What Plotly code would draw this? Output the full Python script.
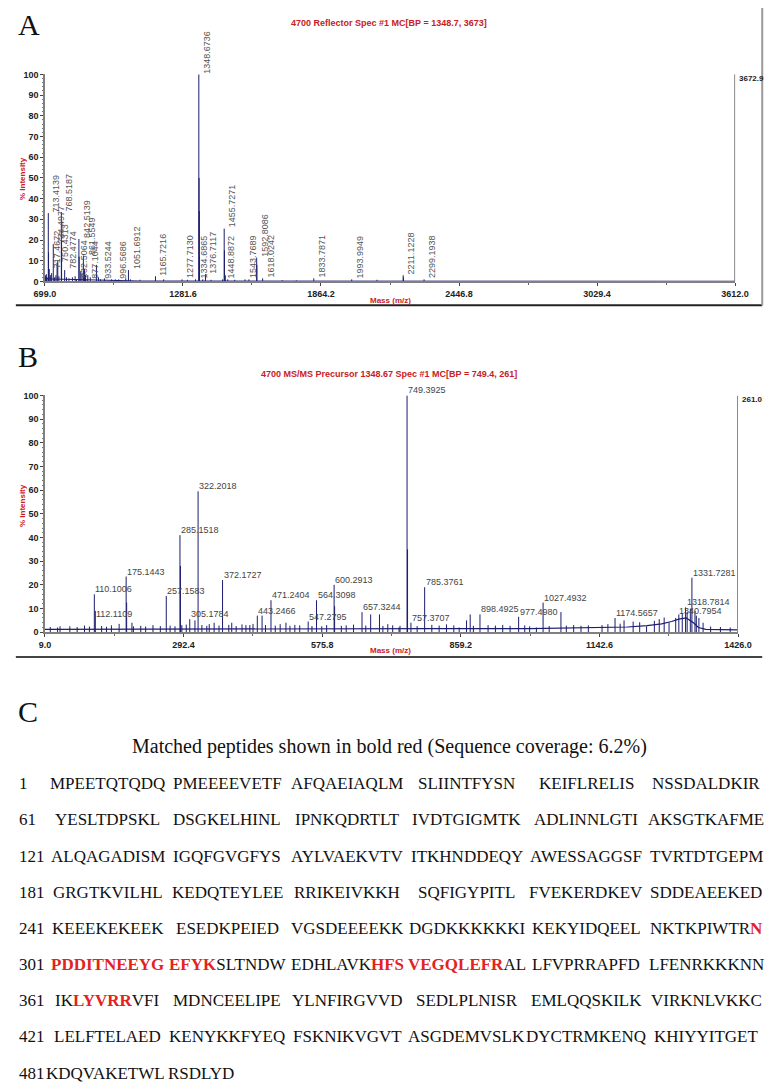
import plotly.graph_objects as go

W, H = 783, 1092

# ---------------- Panel A data (MS reflector spectrum) ----------------
A_TITLE = "4700 Reflector Spec #1 MC[BP = 1348.7, 3673]"
A_MAXLABEL = "3672.9"
a_ticks = [699.0, 1281.6, 1864.2, 2446.8, 3029.4, 3612.0]
a_lab_mz = [713.4139, 717.4672, 734.4977, 750.4313, 768.5187, 782.4774, 832.5064,
            842.5139, 861.5549, 877.1044, 933.5244, 996.5686, 1051.6912, 1165.7216,
            1277.7130, 1334.6865, 1348.6736, 1376.7117, 1448.8872, 1455.7271,
            1543.7689, 1592.8086, 1618.0242, 1833.7871, 1993.9949, 2211.1228, 2299.1938]
a_lab_int = [33.0, 6.0, 18.0, 9.0, 33.5, 5.5, 1.0,
             20.5, 12.5, 0.8, 1.0, 1.0, 5.5, 2.5,
             1.0, 1.0, 100.0, 3.5, 1.0, 25.5,
             1.0, 11.5, 1.5, 1.5, 1.0, 3.0, 1.0]
a_extra_mz = [700.5, 703.0, 705.2, 708.1, 714.4, 722.3, 727.5, 740.2, 745.6, 753.5,
              758.3, 769.5, 790.1, 800.4, 815.2, 826.7, 843.5, 850.3, 855.6, 866.2,
              870.4, 880.1, 890.6, 916.5, 925.3, 950.2, 980.4, 1010.6, 1040.3, 1060.2,
              1100.5, 1200.3, 1300.6, 1349.68, 1350.68, 1351.68, 1365.2, 1400.4,
              1456.7, 1460.4, 1470.5, 1500.3, 1560.2, 1593.8, 1700.5, 1760.3, 2100.6,
              2212.1]
a_extra_int = [3.0, 2.5, 3.5, 2.0, 14.0, 3.0, 4.0, 2.0, 3.0, 10.0,
               2.5, 20.0, 2.0, 1.5, 2.0, 2.5, 12.0, 5.0, 4.0, 6.0,
               3.0, 3.0, 2.0, 8.0, 2.0, 1.5, 1.0, 1.0, 1.5, 1.0,
               0.8, 1.0, 0.8, 50.0, 34.0, 12.0, 1.0, 0.8,
               15.0, 3.0, 1.0, 0.8, 1.0, 8.0, 0.6, 0.5, 0.8,
               2.0]
a_base_mz = [699.0, 720.0, 800.0, 900.0, 1000.0, 1100.0, 3612.0]
a_base_int = [1.5, 1.2, 1.0, 0.8, 0.3, 0.2, 0.1]

# ---------------- Panel B data (MS/MS spectrum) ----------------
B_TITLE = "4700 MS/MS Precursor 1348.67 Spec #1 MC[BP = 749.4, 261]"
B_MAXLABEL = "261.0"
b_ticks = [9.0, 292.4, 575.8, 859.2, 1142.6, 1426.0]
b_lab_mz = [110.1006, 112.1109, 175.1443, 257.1583, 285.1518, 305.1784, 322.2018,
            372.1727, 443.2466, 471.2404, 547.2795, 564.3098, 600.2913, 657.3244,
            749.3925, 757.3707, 785.3761, 898.4925, 977.4980, 1027.4932, 1174.5657,
            1318.7814, 1331.7281, 1340.7954]
b_lab_int = [16.0, 9.0, 23.5, 15.3, 41.0, 5.5, 59.5,
             22.0, 7.0, 13.5, 4.5, 13.5, 20.0, 8.5,
             100.0, 4.0, 19.0, 7.5, 6.5, 12.5, 6.0,
             10.5, 23.0, 7.0]
b_extra_mz = [40.0, 160.8, 176.15, 187.0, 286.15, 289.0, 315.8, 355.0, 391.0, 428.0,
              434.5, 453.0, 460.0, 501.8, 575.0, 601.3, 675.0, 693.0, 733.0, 750.4,
              856.0, 871.0, 878.5, 1000.0, 1013.8, 1064.0, 1148.0, 1193.0, 1211.6,
              1239.0, 1285.0, 1298.6, 1312.0, 1328.5, 1338.0, 1346.0, 1354.6]
b_extra_int = [2.5, 3.5, 12.5, 4.0, 28.0, 3.0, 5.0, 4.0, 4.0, 3.0,
               3.5, 7.0, 3.0, 4.0, 2.5, 11.0, 7.5, 7.5, 2.0, 35.0,
               2.0, 5.0, 7.5, 2.5, 2.0, 8.5, 3.0, 5.0, 4.5,
               2.5, 4.0, 6.0, 8.0, 10.0, 9.0, 6.0, 4.0]
b_noise_mz = [20, 35, 60, 75, 90, 100, 125, 135, 145, 190, 205, 215, 230, 245, 265,
              275, 298, 330, 340, 345, 365, 385, 400, 412, 420, 480, 490, 510, 520,
              530, 555, 585, 615, 625, 640, 665, 700, 710, 720, 735, 770, 800, 815,
              830, 845, 885, 915, 930, 945, 960, 990, 1040, 1075, 1090, 1105, 1120,
              1160, 1185, 1225, 1255, 1265, 1275, 1305, 1322, 1370, 1390, 1410]
b_noise_int = [2.2, 2.0, 2.5, 2.2, 2.8, 2.4, 2.6, 2.3, 2.9, 2.5, 2.7, 2.4, 3.0, 2.6, 2.8,
               2.5, 3.2, 3.0, 2.7, 3.4, 2.8, 3.1, 2.6, 3.3, 3.0, 2.8, 3.4, 2.7, 3.1,
               2.9, 2.6, 3.0, 2.7, 2.9, 3.2, 2.8, 2.6, 3.4, 2.9, 2.7, 2.6, 3.1, 2.8,
               3.3, 2.9, 2.7, 3.0, 2.8, 3.1, 2.7, 2.9, 2.6, 2.8, 3.0, 2.7, 2.9,
               3.4, 3.6, 4.2, 4.8, 5.5, 6.2, 7.5, 8.5, 2.4, 2.2, 2.0]
b_base_mz = [9.0, 200.0, 400.0, 600.0, 800.0, 1000.0, 1150.0, 1200.0, 1240.0, 1270.0,
             1290.0, 1305.0, 1320.0, 1335.0, 1345.0, 1360.0, 1426.0]
b_base_int = [1.2, 1.3, 1.5, 1.5, 1.5, 1.5, 1.8, 2.2, 2.8, 3.5,
              4.5, 5.5, 6.0, 4.0, 2.0, 1.2, 1.0]

# ---------------- Panel C data (protein sequence) ----------------
C_TITLE = "Matched peptides shown in bold red (Sequence coverage: 6.2%)"
SEQUENCE = "".join("""
MPEETQTQDQ PMEEEEVETF AFQAEIAQLM SLIINTFYSN KEIFLRELIS NSSDALDKIR
YESLTDPSKL DSGKELHINL IPNKQDRTLT IVDTGIGMTK ADLINNLGTI AKSGTKAFME
ALQAGADISM IGQFGVGFYS AYLVAEKVTV ITKHNDDEQY AWESSAGGSF TVRTDTGEPM
GRGTKVILHL KEDQTEYLEE RRIKEIVKKH SQFIGYPITL FVEKERDKEV SDDEAEEKED
KEEEKEKEEK ESEDKPEIED VGSDEEEEKK DGDKKKKKKI KEKYIDQEEL NKTKPIWTRN
PDDITNEEYG EFYKSLTNDW EDHLAVKHFS VEGQLEFRAL LFVPRRAPFD LFENRKKKNN
IKLYVRRVFI MDNCEELIPE YLNFIRGVVD SEDLPLNISR EMLQQSKILK VIRKNLVKKC
LELFTELAED KENYKKFYEQ FSKNIKVGVT ASGDEMVSLK DYCTRMKENQ KHIYYITGET
KDQVAKETWL RSDLYD
""".split())
matched_peptides = ["NPDDITNEEYGEFYK", "HFSVEGQLEFR", "LYVRR"]

# ---------------- styling ----------------
NAVY = "#1c1c70"
RED = "#c8201e"
SEQ_RED = "#e3231d"
SANS = "Liberation Sans, Arial, sans-serif"
SERIF = "Liberation Serif, Times New Roman, serif"


def sticks(mz, inten):
    xs, ys = [], []
    for m, h in zip(mz, inten):
        xs += [m, m, None]
        ys += [0, h, None]
    return xs, ys


def px(xp):
    return xp / W


def py(yp):
    return 1 - yp / H


def paper_text(xp, yp, text, font, xanchor="center", yanchor="middle", **kw):
    return dict(x=px(xp), y=py(yp), xref="paper", yref="paper", text=text, showarrow=False,
                xanchor=xanchor, yanchor=yanchor, font=font, **kw)


fig = go.Figure()

# Panel A traces
fig.add_trace(go.Scatter(x=a_base_mz, y=a_base_int, mode="lines", line=dict(color=NAVY, width=1),
                         xaxis="x", yaxis="y", hoverinfo="skip", showlegend=False))
xs, ys = sticks(a_extra_mz + a_lab_mz, a_extra_int + a_lab_int)
fig.add_trace(go.Scatter(x=xs, y=ys, mode="lines", line=dict(color=NAVY, width=1),
                         xaxis="x", yaxis="y", hoverinfo="skip", showlegend=False))

# Panel B traces
fig.add_trace(go.Scatter(x=b_base_mz, y=b_base_int, mode="lines", line=dict(color=NAVY, width=1.2),
                         xaxis="x2", yaxis="y2", hoverinfo="skip", showlegend=False))
xs, ys = sticks(b_noise_mz + b_extra_mz + b_lab_mz, b_noise_int + b_extra_int + b_lab_int)
fig.add_trace(go.Scatter(x=xs, y=ys, mode="lines", line=dict(color=NAVY, width=1),
                         xaxis="x2", yaxis="y2", hoverinfo="skip", showlegend=False))

ann = []

# peak labels A (rotated)
for m, h in zip(a_lab_mz, a_lab_int):
    ann.append(dict(x=m, y=h, xref="x", yref="y", text=f"{m:.4f}", textangle=-90,
                    showarrow=False, xanchor="left", yanchor="bottom", xshift=1, yshift=-1,
                    font=dict(family=SANS, size=9, color="#555")))

# peak labels B (horizontal)
b_shift = {"112.1109": (0, -8), "1340.7954": (-18, 0)}
for m, h in zip(b_lab_mz, b_lab_int):
    t = f"{m:.4f}"
    dx, dy = b_shift.get(t, (0, 0))
    ann.append(dict(x=m, y=h, xref="x2", yref="y2", text=t, showarrow=False,
                    xanchor="left", yanchor="bottom", xshift=-1 + dx, yshift=-2 + dy,
                    font=dict(family=SANS, size=9, color="#444")))

title_font = dict(family=SANS, size=9, color=RED, weight="bold")
axis_font = dict(family=SANS, size=8, color=RED, weight="bold")
max_font = dict(family=SANS, size=8, color="#222", weight="bold")
letter_font = dict(family=SERIF, size=30, color="#111")
seq_font = dict(family=SERIF, size=17, color="#111")

ann.append(paper_text(390, 18, A_TITLE, title_font))
ann.append(paper_text(390, 372, B_TITLE, title_font))
ann.append(paper_text(392, 298, "Mass (m/z)", axis_font))
ann.append(paper_text(392, 651, "Mass (m/z)", axis_font))
ann.append(paper_text(12, 175, "% Intensity", axis_font, textangle=-90))
ann.append(paper_text(12, 505, "% Intensity", axis_font, textangle=-90))
ann.append(paper_text(750, 74, A_MAXLABEL, max_font, xanchor="left"))
ann.append(paper_text(753, 398, B_MAXLABEL, max_font, xanchor="left"))
ann.append(paper_text(5, 20, "A", letter_font, xanchor="left"))
ann.append(paper_text(5, 355, "B", letter_font, xanchor="left"))
ann.append(paper_text(5, 713, "C", letter_font, xanchor="left"))
ann.append(paper_text(391, 748, C_TITLE, dict(family=SERIF, size=20, color="#111")))

hl = [False] * len(SEQUENCE)
for pep in matched_peptides:
    i = SEQUENCE.find(pep)
    for k in range(i, i + len(pep)):
        hl[k] = True


def fmt_block(start, block):
    out, cur, flag = [], "", None
    for k, ch in enumerate(block):
        f = hl[start + k]
        if flag is None or f == flag:
            cur += ch
        else:
            out.append((flag, cur))
            cur = ch
        flag = f
    out.append((flag, cur))
    html = ""
    for f, s in out:
        html += f"<span style='color:{SEQ_RED}'><b>{s}</b></span>" if f else s
    return html


n_rows = (len(SEQUENCE) + 59) // 60
for r in range(n_rows):
    yrow = 786 + r * 36.5
    start = r * 60
    ann.append(paper_text(6, yrow, str(start + 1), seq_font, xanchor="left"))
    blocks = [(s, SEQUENCE[s:s + 10]) for s in range(start, min(start + 60, len(SEQUENCE)), 10)]
    full = len(blocks) == 6
    for b, (s, blk) in enumerate(blocks):
        if full:
            xb, xa = 100 + b * 123.6, "center"
        else:
            xb, xa = 34 + b * 126, "left"
        ann.append(paper_text(xb, yrow, fmt_block(s, blk), seq_font, xanchor=xa))

shapes = [
    dict(type="line", xref="x", yref="y", x0=3612, x1=3612, y0=0, y1=100, line=dict(color="#8a8a8a", width=2)),
    dict(type="line", xref="x2", yref="y2", x0=1426, x1=1426, y0=0, y1=100, line=dict(color="#8a8a8a", width=2)),
    dict(type="line", xref="paper", yref="paper", x0=px(5), x1=px(776), y0=py(303), y1=py(303),
         line=dict(color="#222", width=2)),
    dict(type="line", xref="paper", yref="paper", x0=px(776), x1=px(776), y0=py(3), y1=py(303),
         line=dict(color="#9a9a9a", width=2)),
    dict(type="line", xref="paper", yref="paper", x0=px(5), x1=px(776), y0=py(658), y1=py(658),
         line=dict(color="#444", width=2)),
]


def xaxis_cfg(dom, rng, ticks):
    mids = [(ticks[i] + ticks[i + 1]) / 2 for i in range(len(ticks) - 1)]
    return dict(domain=dom, range=rng, tickmode="array", tickvals=ticks,
                ticktext=[f"{v:.1f}" for v in ticks], ticks="outside", ticklen=3, tickcolor="#444",
                tickfont=dict(family=SANS, size=9, color="#222", weight="bold"),
                showline=True, linecolor="#808080", linewidth=1.5, showgrid=False, zeroline=False,
                minor=dict(tickvals=mids, ticks="outside", ticklen=2, tickcolor="#666"))


def yaxis_cfg(dom):
    return dict(domain=dom, range=[0, 100], tickmode="array", tickvals=list(range(0, 101, 10)),
                ticks="outside", ticklen=3, tickcolor="#444",
                tickfont=dict(family=SANS, size=9, color="#222", weight="bold"),
                showline=True, linecolor="#808080", linewidth=1.5, showgrid=False, zeroline=False,
                minor=dict(dtick=2, ticks="outside", ticklen=1.5, tickcolor="#777"))


fig.update_layout(
    width=W, height=H, autosize=False,
    margin=dict(l=0, r=0, t=0, b=0),
    paper_bgcolor="white", plot_bgcolor="white",
    xaxis=dict(anchor="y", **xaxis_cfg([px(35), px(748)], [699.0, 3612.0], a_ticks)),
    yaxis=dict(anchor="x", **yaxis_cfg([py(279), py(70)])),
    xaxis2=dict(anchor="y2", **xaxis_cfg([px(35), px(751)], [9.0, 1426.0], b_ticks)),
    yaxis2=dict(anchor="x2", **yaxis_cfg([py(633), py(394)])),
    annotations=ann, shapes=shapes, showlegend=False,
)

fig.write_html("out.html", config={"displayModeBar": False, "staticPlot": True},
               post_script="document.body.style.margin='0';document.body.style.overflow='hidden';")
